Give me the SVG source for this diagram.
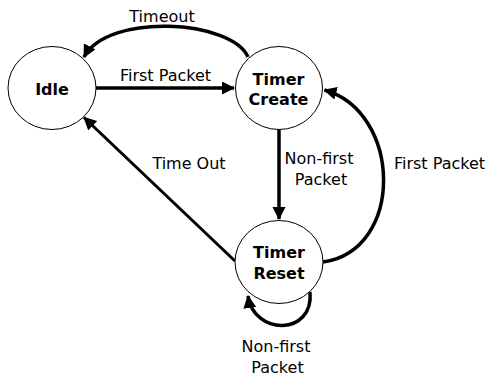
<svg xmlns="http://www.w3.org/2000/svg" width="488" height="379" viewBox="0 0 488 379">
  <style>
    .state { fill: #ffffff; stroke: #000000; stroke-width: 1; }
    .name { font-family: "DejaVu Sans", Verdana, sans-serif; font-size: 16px; font-weight: bold; fill: #000000; text-anchor: middle; }
    .label { font-family: "DejaVu Sans", Verdana, sans-serif; font-size: 16px; fill: #000000; text-anchor: middle; }
    .edge { fill: none; stroke: #000000; stroke-width: 3.5; marker-end: url(#arrow); }
  </style>
  <defs>
    <marker id="arrow" markerUnits="userSpaceOnUse" markerWidth="14" markerHeight="14" refX="12" refY="6.5" orient="auto">
      <path d="M0,0 L13,6.5 L0,13 Z" fill="#000000"/>
    </marker>
  </defs>

  <!-- transitions -->
  <g id="connectors">
    <path class="edge" d="M248,57 C232,20 108,12 84,57"/>
    <path class="edge" d="M96,88 L234,88"/>
    <path class="edge" d="M279,129.5 L279,219"/>
    <path class="edge" d="M323,262 C405,250 402,112 324.5,90"/>
    <path class="edge" style="stroke-width:3" d="M235,261 L84,117.5"/>
    <path class="edge" d="M310,292 C314,336 254,336 248,296"/>
  </g>

  <!-- transition labels -->
  <g id="labels">
    <text class="label" x="162" y="21.5">Timeout</text>
    <text class="label" x="165.5" y="81">First Packet</text>
    <text class="label" x="319" y="164">Non-first</text>
    <text class="label" x="321" y="185">Packet</text>
    <text class="label" x="439.5" y="169">First Packet</text>
    <text class="label" x="189" y="169">Time Out</text>
    <text class="label" x="276" y="352">Non-first</text>
    <text class="label" x="277.5" y="372.5">Packet</text>
  </g>

  <!-- states -->
  <g id="idle">
    <ellipse class="state" cx="52" cy="88" rx="44" ry="41.5"/>
    <text class="name" x="52" y="95">Idle</text>
  </g>
  <g id="timer-create">
    <ellipse class="state" cx="279" cy="88" rx="43.5" ry="41.5"/>
    <text class="name" x="278.5" y="85">Timer</text>
    <text class="name" x="278.5" y="105">Create</text>
  </g>
  <g id="timer-reset">
    <ellipse class="state" cx="279" cy="262" rx="44" ry="41.5"/>
    <text class="name" x="279" y="258">Timer</text>
    <text class="name" x="279" y="279">Reset</text>
  </g>
</svg>
